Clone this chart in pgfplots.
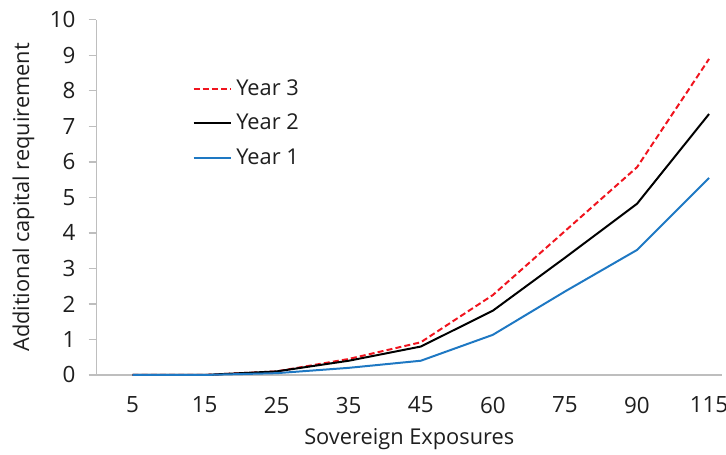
\documentclass[border=0pt]{standalone}
\usepackage{pgfplots}
\pgfplotsset{compat=1.18}
\usepackage{fontspec}
\setmainfont{Open Sans}
\definecolor{yblue}{RGB}{30,120,195}
\definecolor{yred}{RGB}{240,20,30}
\definecolor{axgray}{RGB}{190,190,190}
\definecolor{txt}{RGB}{30,30,30}
\begin{document}
\begin{tikzpicture}
\begin{axis}[
  scale only axis,
  width=314.5bp, height=178.5bp,
  xmin=-0.5, xmax=8.18,
  ymin=0, ymax=10,
  axis x line=bottom, axis y line=left,
  axis line style={-, draw=axgray, line width=0.6bp},
  xtick={0,1,2,3,4,5,6,7,8},
  xticklabels={5,15,25,35,45,60,75,90,115},
  ytick={0,1,...,10},
  xtick style={draw=none},
  ytick style={draw=axgray, line width=0.6bp},
  tick align=outside,
  major tick length=4bp,
  /pgf/number format/assume math mode=true,
  ticklabel style={font=\fontsize{11.3}{13}\selectfont, text=txt},
  yticklabel style={xshift=-3bp},
  xticklabel style={yshift=-3.5bp},
  xlabel={Sovereign Exposures},
  ylabel={Additional capital requirement},
  label style={font=\fontsize{11}{13}\selectfont, text=txt},
  xlabel style={yshift=-1bp},
  ylabel style={yshift=1bp},
  legend style={draw=none, fill=none, at={(0.153,0.845)}, anchor=north west,
    font=\fontsize{11}{13}\selectfont, text=txt, row sep=4bp, inner sep=0pt},
  legend cell align=left,
  legend image code/.code={\draw[#1] (0bp,0bp) -- (19bp,0bp);},
  clip=false,
]
\addplot[yred, dashed, line width=1bp, dash pattern=on 3bp off 1.6bp] coordinates {(0,0) (1,0) (2,0.1) (3,0.45) (4,0.92) (5,2.25) (6,4.05) (7,5.85) (8,8.9)};
\addlegendentry{Year 3}
\addplot[black, line width=1bp] coordinates {(0,0) (1,0) (2,0.1) (3,0.4) (4,0.8) (5,1.81) (6,3.3) (7,4.82) (8,7.35)};
\addlegendentry{Year 2}
\addplot[yblue, line width=1bp] coordinates {(0,0) (1,0) (2,0.05) (3,0.2) (4,0.4) (5,1.13) (6,2.35) (7,3.52) (8,5.55)};
\addlegendentry{Year 1}
\end{axis}
\pgfresetboundingbox
\path ([xshift=-48.5bp, yshift=-40bp]current axis.south west) rectangle ([xshift=2bp, yshift=10bp]current axis.north east);
\end{tikzpicture}
\end{document}
